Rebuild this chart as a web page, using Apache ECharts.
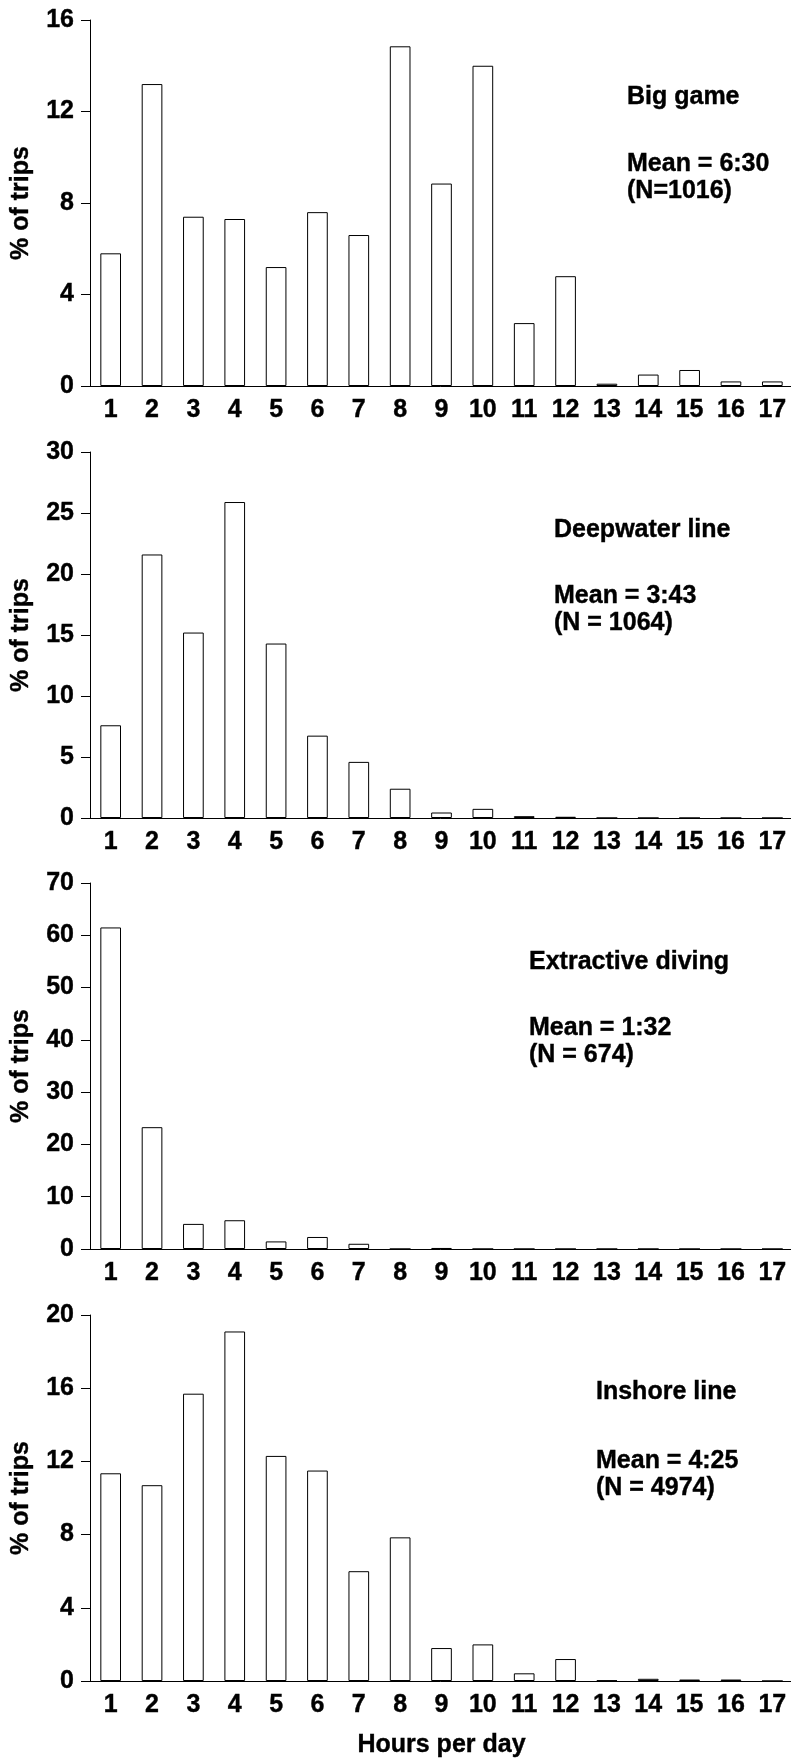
<!DOCTYPE html>
<html>
<head>
<meta charset="utf-8">
<script src="https://cdn.jsdelivr.net/npm/echarts@6.0.0/dist/echarts.min.js"></script>
<style>
	html, body { margin: 0; padding: 0; background: #fff; }
	#myChart { width: 791px; height: 1758px; }
</style>
</head>
<body>
<div id="myChart"></div>
<script>
// hours per day (x categories)
const hours = ["1", "2", "3", "4", "5", "6", "7", "8", "9", "10", "11", "12", "13", "14", "15", "16", "17"];

// % of trips
const bigGame = [5.8, 13.2, 7.4, 7.3, 5.2, 7.6, 6.6, 14.85, 8.85, 14.0, 2.75, 4.8, 0.1, 0.5, 0.7, 0.2, 0.2];
const deepwaterLine = [7.6, 21.6, 15.2, 25.9, 14.3, 6.75, 4.6, 2.4, 0.45, 0.75, 0.15, 0.1, 0, 0, 0, 0, 0];
const extractiveDiving = [61.5, 23.3, 4.8, 5.5, 1.45, 2.3, 1.0, 0, 0.2, 0, 0, 0, 0, 0, 0, 0, 0];
const inshoreLine = [11.35, 10.7, 15.7, 19.1, 12.3, 11.5, 6.0, 7.85, 1.8, 2.0, 0.42, 1.2, 0.03, 0.12, 0.08, 0.08, 0];

// y axis ranges
const yMax = [16, 30, 70, 20];
const yStep = [4, 5, 10, 4];

// panel labels
const panelNames = ["Big game", "Deepwater line", "Extractive diving", "Inshore line"];
const panelStats = ["Mean = 6:30\n(N=1016)", "Mean = 3:43\n(N = 1064)", "Mean = 1:32\n(N = 674)", "Mean = 4:25\n(N = 4974)"];

const panelData = [bigGame, deepwaterLine, extractiveDiving, inshoreLine];
const gridTops = [20, 452, 883, 1315];
const gridHeight = 366;
const textPos = [
	{ x: 627, y1: 85, y2: 151 },
	{ x: 554, y1: 518, y2: 583 },
	{ x: 529, y1: 950, y2: 1015 },
	{ x: 596, y1: 1380, y2: 1448 },
];

const font = "Liberation Sans, Arial, Helvetica, sans-serif";
// bold text, with a thin stroke so it reads as heavy as the original
const txt = { color: "#000", fontSize: 25, fontWeight: "bold", fontFamily: font, textBorderColor: "#000", textBorderWidth: 0.4 };

const grids = [], xAxes = [], yAxes = [], series = [], graphics = [];
for (let i = 0; i < 4; i++) {
	grids.push({
		left: 90,
		top: gridTops[i],
		width: 703,
		height: gridHeight,
		containLabel: false,
		outerBoundsMode: "none",
	});
	xAxes.push({
		type: "category",
		gridIndex: i,
		data: hours,
		name: i === 3 ? "Hours per day" : "",
		nameLocation: "middle",
		nameGap: 52,
		nameTextStyle: txt,
		axisLine: { lineStyle: { color: "#000", width: 1 } },
		axisTick: { show: false },
		axisLabel: Object.assign({ interval: 0, margin: 12 }, txt),
		splitLine: { show: false },
	});
	yAxes.push({
		type: "value",
		gridIndex: i,
		min: 0,
		max: yMax[i],
		interval: yStep[i],
		name: "% of trips",
		nameLocation: "middle",
		nameGap: 56,
		nameRotate: 90,
		nameTextStyle: txt,
		axisLine: { show: true, lineStyle: { color: "#000", width: 1 } },
		axisTick: { show: true, length: 9, lineStyle: { color: "#000", width: 1 } },
		axisLabel: Object.assign({ margin: 16 }, txt),
		splitLine: { show: false },
	});
	series.push({
		name: panelNames[i],
		type: "bar",
		xAxisIndex: i,
		yAxisIndex: i,
		data: panelData[i],
		barCategoryGap: "50%",
		itemStyle: { color: "#fff", borderColor: "#000", borderWidth: 1 },
		silent: true,
	});
	graphics.push({
		type: "text",
		x: textPos[i].x,
		y: textPos[i].y1,
		style: { text: panelNames[i], fill: "#000", stroke: "#000", lineWidth: 0.4, font: "bold 25px " + font, verticalAlign: "top" },
	});
	graphics.push({
		type: "text",
		x: textPos[i].x,
		y: textPos[i].y2,
		style: { text: panelStats[i], fill: "#000", stroke: "#000", lineWidth: 0.4, font: "bold 25px " + font, lineHeight: 27, verticalAlign: "top" },
	});
}

let myChart = echarts.init(document.getElementById("myChart"), null, { renderer: "canvas" });
myChart.setOption({
	backgroundColor: "#fff",
	animation: false,
	grid: grids,
	xAxis: xAxes,
	yAxis: yAxes,
	series: series,
	graphic: graphics,
});
</script>
</body>
</html>
